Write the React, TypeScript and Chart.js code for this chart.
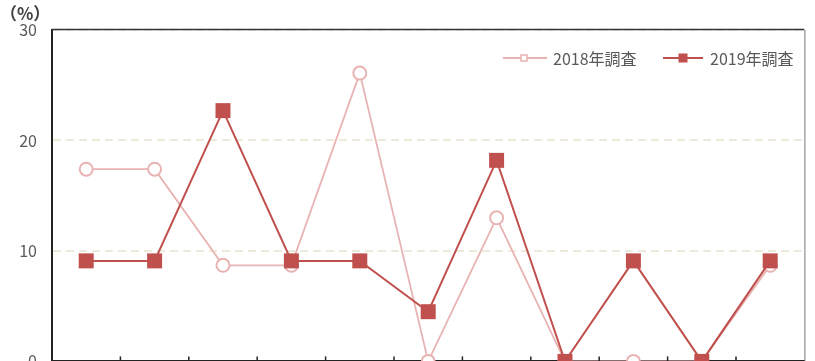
import React, { useEffect, useRef } from "react";
import { Chart, registerables } from "chart.js";

Chart.register(...registerables);

const categories = ["1", "2", "3", "4", "5", "6", "7", "8", "9", "10", "11"];
const series2018 = [17.4, 17.4, 8.7, 8.7, 26.1, 0, 13.0, 0, 0, 0, 8.7];
const series2019 = [9.1, 9.1, 22.7, 9.1, 9.1, 4.5, 18.2, 0, 9.1, 0, 9.1];
const seriesNames = ["2018年調査", "2019年調査"];
const yTicks = [0, 10, 20, 30];
const unitLabel = "（%）";

const PINK = "#E8B3B3";
const RED = "#C0504D";
const TEXT = "#595959";
const FONT = "'Noto Sans CJK JP', 'Noto Sans', sans-serif";

const decorPlugin = {
  id: "decor",
  afterDraw(chart: any) {
    const { ctx, chartArea } = chart;
    const xs = chart.scales.x;
    ctx.save();
    // unit label
    ctx.fillStyle = "#404040";
    ctx.font = `bold 17px ${FONT}`;
    ctx.textBaseline = "middle";
    ctx.textAlign = "left";
    ctx.fillText(unitLabel, 0, 14);
    // top & right border
    ctx.strokeStyle = "#333";
    ctx.lineWidth = 1.5;
    ctx.beginPath();
    ctx.moveTo(chartArea.left, chartArea.top - 0.5);
    ctx.lineTo(chartArea.right, chartArea.top - 0.5);
    ctx.stroke();
    ctx.strokeStyle = "#777";
    ctx.lineWidth = 1;
    ctx.beginPath();
    ctx.moveTo(chartArea.right + 0.5, chartArea.top);
    ctx.lineTo(chartArea.right + 0.5, chartArea.bottom);
    ctx.stroke();
    // inward x ticks at category boundaries
    ctx.strokeStyle = "#222";
    ctx.lineWidth = 1.5;
    for (let i = 1; i < categories.length; i++) {
      const px = (xs.getPixelForValue(i - 1) + xs.getPixelForValue(i)) / 2;
      ctx.beginPath();
      ctx.moveTo(px, chartArea.bottom);
      ctx.lineTo(px, chartArea.bottom - 5);
      ctx.stroke();
    }
    // legend
    const ly = 58;
    const items = [
      { x0: 503, x1: 547, mx: 524, text: seriesNames[0], color: PINK, filled: false, size: 6, tx: 553 },
      { x0: 663, x1: 703, mx: 683, text: seriesNames[1], color: RED, filled: true, size: 9, tx: 710 },
    ];
    ctx.font = `16px ${FONT}`;
    for (const it of items) {
      ctx.strokeStyle = it.color;
      ctx.lineWidth = 2;
      ctx.beginPath();
      ctx.moveTo(it.x0, ly);
      ctx.lineTo(it.x1, ly);
      ctx.stroke();
      if (it.filled) {
        ctx.fillStyle = it.color;
        ctx.fillRect(it.mx - it.size / 2, ly - it.size / 2, it.size, it.size);
      } else {
        ctx.fillStyle = "#fff";
        ctx.fillRect(it.mx - it.size / 2, ly - it.size / 2, it.size, it.size);
        ctx.lineWidth = 1.5;
        ctx.strokeRect(it.mx - it.size / 2, ly - it.size / 2, it.size, it.size);
      }
      ctx.fillStyle = TEXT;
      ctx.textAlign = "left";
      ctx.textBaseline = "middle";
      ctx.fillText(it.text, it.tx, ly + 1);
    }
    ctx.restore();
  },
};

export default function App() {
  const ref = useRef<HTMLCanvasElement>(null);
  useEffect(() => {
    document.body.style.margin = "0";
    const chart = new Chart(ref.current!, {
      type: "line",
      data: {
        labels: categories,
        datasets: [
          {
            label: seriesNames[0],
            data: series2018,
            borderColor: PINK,
            borderWidth: 1.8,
            pointStyle: "circle",
            pointRadius: 6.5,
            pointBorderWidth: 2,
            pointBackgroundColor: "#fff",
            pointBorderColor: PINK,
            order: 1,
            clip: false as any,
            tension: 0,
          },
          {
            label: seriesNames[1],
            data: series2019,
            borderColor: RED,
            borderWidth: 2,
            pointStyle: "rect",
            pointRadius: 10.6,
            pointBorderWidth: 0,
            pointBackgroundColor: RED,
            pointBorderColor: RED,
            order: 0,
            clip: false as any,
            tension: 0,
          },
        ],
      },
      options: {
        animation: false,
        responsive: false,
        layout: { padding: { top: 30, right: 2, left: 0, bottom: 0 } },
        plugins: { legend: { display: false }, tooltip: { enabled: false } },
        scales: {
          x: {
            offset: true,
            afterFit: (s: any) => {
              s.height = 1;
              s.paddingLeft = 0;
              s.paddingRight = 0;
            },
            ticks: { display: false },
            grid: { display: false, drawTicks: false },
            border: { display: true, color: "#222", width: 2 },
          },
          y: {
            min: 0,
            max: 30,
            afterFit: (s: any) => {
              s.width = 52;
              s.paddingTop = 0;
              s.paddingBottom = 0;
            },
            afterBuildTicks: (s: any) => {
              s.ticks = yTicks.map((v) => ({ value: v }));
            },
            ticks: {
              padding: 15,
              color: TEXT,
              font: { family: FONT, size: 16 },
            },
            grid: {
              drawTicks: false,
              color: "#EDEADC",
              lineWidth: 2,
            },
            border: { display: true, color: "#222", width: 2, dash: [8, 5] },
          },
        },
      },
      plugins: [decorPlugin],
    });
    return () => chart.destroy();
  }, []);
  return (
    <div style={{ width: 815, height: 361, overflow: "hidden" }}>
      <canvas ref={ref} width={815} height={372} style={{ display: "block" }} />
    </div>
  );
}
